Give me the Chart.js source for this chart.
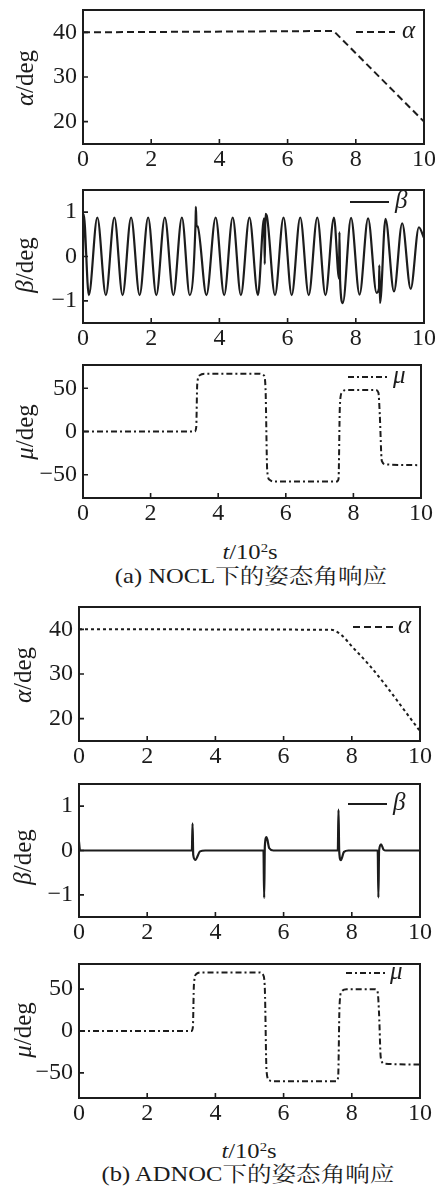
<!DOCTYPE html>
<html>
<head>
<meta charset="utf-8">
<script src="https://cdn.jsdelivr.net/npm/chart.js@4.4.0/dist/chart.umd.min.js"></script>
<style>
body { margin: 0; background: #fff; width: 435px; height: 1191px; position: relative; overflow: hidden;
       font-family: "Liberation Serif", "Noto Serif CJK SC", "Noto Sans CJK SC", serif; color: #1c1c1c; }
canvas { position: absolute; left: 0; }
.ylab { position: absolute; font-size: 25px; white-space: nowrap; line-height: 1;
        transform: translate(-50%, -50%) rotate(-90deg); }
.xlab, .cap { position: absolute; white-space: nowrap; line-height: 1; font-size: 21px;
              transform: translate(-50%, -50%) scaleX(1.17); }
.cap .zh { font-family: "Noto Serif CJK SC", "Noto Sans CJK SC", sans-serif; }
sup { font-size: 60%; vertical-align: 0.55em; line-height: 0; }
</style>
</head>
<body>
<canvas id="c1"></canvas>
<canvas id="c2"></canvas>
<canvas id="c3"></canvas>
<canvas id="c4"></canvas>
<canvas id="c5"></canvas>
<canvas id="c6"></canvas>

<div class="ylab" style="left:24px;top:78px"><i>α</i>/deg</div>
<div class="ylab" style="left:24px;top:265px"><i>β</i>/deg</div>
<div class="ylab" style="left:24px;top:432px"><i>μ</i>/deg</div>
<div class="ylab" style="left:22px;top:675px"><i>α</i>/deg</div>
<div class="ylab" style="left:22px;top:857px"><i>β</i>/deg</div>
<div class="ylab" style="left:22px;top:1030px"><i>μ</i>/deg</div>

<div class="xlab" style="left:250px;top:552px"><i>t</i>/10<sup>2</sup>s</div>
<div class="cap" style="left:251px;top:575px">(a) NOCL<span class="zh">下的姿态角响应</span></div>
<div class="xlab" style="left:249px;top:1151px"><i>t</i>/10<sup>2</sup>s</div>
<div class="cap" style="left:248px;top:1173px">(b) ADNOC<span class="zh">下的姿态角响应</span></div>

<script>
// time axis in 10^2 s
const xTicks = [0, 2, 4, 6, 8, 10];
const alphaTicks = [20, 30, 40];
const betaTicks = [-1, 0, 1];
const muTicks = [-50, 0, 50];

// (a) NOCL
const alphaT_a = [0, 7.35, 10];
const alphaV_a = [40, 40.3, 20];
const betaT_a = [0, 0.02, 0.17, 0.42, 0.67, 0.92, 1.16, 1.41, 1.66, 1.91, 2.15, 2.40, 2.65, 2.90, 3.13,
                 3.30, 3.31, 3.33, 3.36, 3.62, 3.89, 4.14, 4.39, 4.63, 4.88, 5.13, 5.31, 5.33, 5.35, 5.39,
                 5.63, 5.88, 6.12, 6.37, 6.62, 6.87, 7.11, 7.36, 7.51, 7.52, 7.54, 7.62, 7.86, 8.11, 8.36,
                 8.61, 8.68, 8.69, 8.71, 8.87, 9.12, 9.36, 9.61, 9.85, 10];
const betaV_a = [0, 0.95, -0.87, 0.88, -0.87, 0.88, -0.87, 0.88, -0.87, 0.88, -0.87, 0.88, -0.87, 0.88, -0.87,
                 0.75, 1.12, 0.70, 0.68, -0.87, 0.88, -0.87, 0.88, -0.87, 0.88, -0.87, 0.86, -0.17, 0.96, 0.92,
                 -0.87, 0.88, -0.87, 0.88, -0.87, 0.88, -0.87, 0.88, -0.5, 0.55, -0.55, -1.05, 0.87, -0.86, 0.86,
                 -0.82, -0.72, -0.2, -1.05, 0.85, -0.79, 0.75, -0.73, 0.66, 0.42];
const muT_a = [0, 3.30, 3.35, 3.38, 3.45, 3.6, 5.2, 5.35, 5.40, 5.45, 5.52, 5.7,
               7.5, 7.56, 7.60, 7.66, 7.8, 8.65, 8.74, 8.78, 8.84, 8.95, 10];
const muV_a = [0, 0, 5, 55, 65, 67, 67, 65, 50, -45, -56, -58,
               -58, -55, 30, 45, 48, 48, 45, 20, -34, -38, -39];

// (b) ADNOC
const alphaT_b = [0, 7.4, 7.7, 8.0, 8.5, 9.0, 9.5, 10];
const alphaV_b = [40, 39.9, 38.7, 36.2, 32.1, 27.4, 22.3, 17.2];
const betaT_b = [0, 0.03, 3.31, 3.33, 3.35, 3.41, 3.55, 3.7, 5.41, 5.43, 5.45, 5.50, 5.58, 5.7,
                 7.59, 7.61, 7.63, 7.68, 7.77, 7.9, 8.76, 8.78, 8.80, 8.86, 8.93, 9.0, 10];
const betaV_b = [0.2, 0, 0, 0.61, -0.1, -0.21, -0.02, 0, 0, -1.07, 0.1, 0.30, 0.05, 0,
                 0, 0.92, 0, -0.22, -0.03, 0, 0, -1.06, 0, 0.14, 0.02, 0, 0];
const muT_b = [0, 3.30, 3.34, 3.37, 3.44, 3.6, 5.3, 5.40, 5.45, 5.50, 5.58, 5.75,
               7.55, 7.60, 7.64, 7.70, 7.85, 8.68, 8.76, 8.80, 8.85, 8.95, 10];
const muV_b = [0, 0, 5, 55, 68, 70, 70, 67, 50, -48, -59, -60,
               -60, -55, 30, 47, 50, 50, 46, 20, -32, -39, -40];

const INK = "#1c1c1c";
const tickFont = { family: "Liberation Serif", size: 24 };

// box, inward ticks and the little legend in the top right corner
const framePlugin = {
    id: "frame",
    afterDatasetsDraw(chart, args, opts) {
        const ctx = chart.ctx, a = chart.chartArea;
        const x = chart.scales.x, y = chart.scales.y;
        ctx.save();
        ctx.strokeStyle = INK;
        ctx.lineWidth = 1.6;
        ctx.beginPath();
        x.ticks.forEach(t => {
            const px = x.getPixelForValue(t.value);
            if (px > a.left + 3 && px < a.right - 3) { ctx.moveTo(px, a.bottom); ctx.lineTo(px, a.bottom - 5); }
        });
        y.ticks.forEach(t => {
            const py = y.getPixelForValue(t.value);
            ctx.moveTo(a.left, py); ctx.lineTo(a.left + 5, py);
        });
        ctx.stroke();
        ctx.lineWidth = 2;
        ctx.strokeRect(a.left, a.top, a.right - a.left, a.bottom - a.top);

        const lg = opts.legend;
        ctx.setLineDash(lg.dash);
        ctx.lineWidth = 2;
        ctx.beginPath();
        ctx.moveTo(a.right + lg.x0, a.top + lg.dy);
        ctx.lineTo(a.right + lg.x1, a.top + lg.dy);
        ctx.stroke();
        ctx.setLineDash([]);
        ctx.fillStyle = INK;
        ctx.font = 'italic 25px "Liberation Serif"';
        ctx.textAlign = "left";
        ctx.textBaseline = "middle";
        ctx.fillText(lg.sym, a.right + lg.tx, a.top + lg.dy - 1);
        ctx.restore();
    }
};

function makeChart(id, box, ts, vs, yRange, yTicks, line, legend) {
    const cv = document.getElementById(id);
    const padTop = 12, axisH = 34;
    cv.width = 435;
    cv.height = box.bottom - box.top + padTop + axisH;
    cv.style.top = (box.top - padTop) + "px";

    const pts = ts.map((t, i) => ({ x: t, y: vs[i] }));
    new Chart(cv, {
        type: "line",
        data: {
            datasets: [{
                data: pts,
                borderColor: INK,
                borderWidth: line.width,
                borderDash: line.dash,
                pointRadius: 0,
                fill: false,
                cubicInterpolationMode: line.smooth ? "monotone" : "default",
                tension: 0
            }]
        },
        options: {
            responsive: false,
            animation: false,
            devicePixelRatio: 1,
            layout: { padding: { top: padTop, right: 435 - box.right, left: 0, bottom: 0 } },
            plugins: {
                legend: { display: false },
                tooltip: { enabled: false },
                frame: { legend: legend }
            },
            scales: {
                x: {
                    type: "linear", min: 0, max: 10,
                    afterBuildTicks: s => { s.ticks = xTicks.map(v => ({ value: v })); },
                    afterFit: s => { s.height = axisH; s.paddingLeft = 0; s.paddingRight = 0; },
                    grid: { display: false, drawTicks: false },
                    border: { display: false },
                    ticks: { padding: 1, color: INK, font: tickFont, maxRotation: 0 }
                },
                y: {
                    type: "linear", min: yRange[0], max: yRange[1],
                    afterBuildTicks: s => { s.ticks = yTicks.map(v => ({ value: v })); },
                    afterFit: s => { s.width = box.left; s.paddingTop = 0; s.paddingBottom = 0; },
                    grid: { display: false, drawTicks: false },
                    border: { display: false },
                    ticks: { padding: 6, color: INK, font: tickFont,
                             callback: v => String(v).replace("-", "\u2212") }
                }
            }
        },
        plugins: [framePlugin]
    });
}

const dashed = { width: 2, dash: [7, 4], smooth: false };
const solid = { width: 2.2, dash: [], smooth: true };
const dashDot = { width: 2, dash: [6, 3, 2, 3], smooth: true };
const dotted = { width: 2, dash: [3, 3], smooth: true };

makeChart("c1", { left: 83, right: 424, top: 10, bottom: 144 }, alphaT_a, alphaV_a, [15, 45], alphaTicks,
          dashed, { x0: -68, x1: -29, dy: 22, tx: -22, sym: "α", dash: [7, 4] });
makeChart("c2", { left: 83, right: 424, top: 190, bottom: 323 }, betaT_a, betaV_a, [-1.5, 1.5], betaTicks,
          solid, { x0: -74, x1: -35, dy: 12, tx: -29, sym: "β", dash: [] });
makeChart("c3", { left: 83, right: 421, top: 365, bottom: 498 }, muT_a, muV_a, [-77, 77], muTicks,
          dashDot, { x0: -73, x1: -33, dy: 12, tx: -28, sym: "μ", dash: [6, 3, 2, 3] });
makeChart("c4", { left: 79, right: 420, top: 607, bottom: 741 }, alphaT_b, alphaV_b, [15, 45], alphaTicks,
          dotted, { x0: -67, x1: -27, dy: 20, tx: -22, sym: "α", dash: [7, 4] });
makeChart("c5", { left: 79, right: 420, top: 784, bottom: 917 }, betaT_b, betaV_b, [-1.5, 1.5], betaTicks,
          solid, { x0: -72, x1: -33, dy: 20, tx: -27, sym: "β", dash: [] });
makeChart("c6", { left: 79, right: 420, top: 964, bottom: 1098 }, muT_b, muV_b, [-80, 80], muTicks,
          dashDot, { x0: -74, x1: -35, dy: 9, tx: -30, sym: "μ", dash: [6, 3, 2, 3] });
</script>
</body>
</html>
